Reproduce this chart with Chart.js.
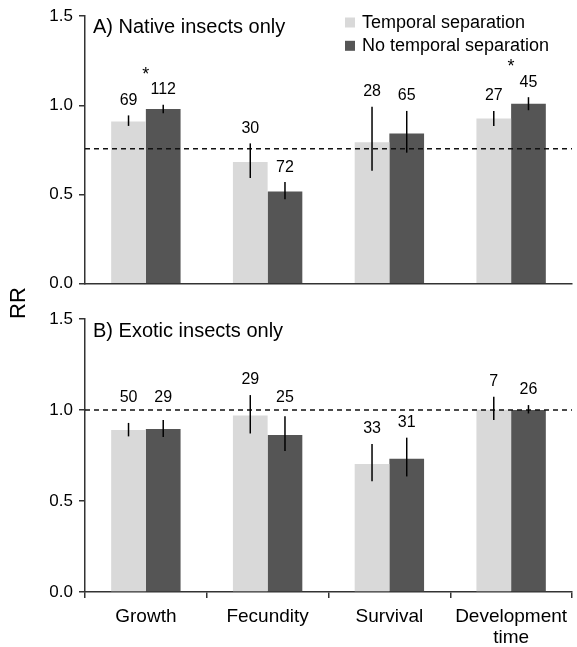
<!DOCTYPE html>
<html><head><meta charset="utf-8">
<script src="https://cdn.jsdelivr.net/npm/chart.js@4.4.1/dist/chart.umd.min.js"></script>
<style>
html,body{margin:0;padding:0;background:#fff;}
#wrap{position:relative;width:577px;height:647px;overflow:hidden;}
canvas{position:absolute;left:0;}
#rr{position:absolute;left:-12px;top:290px;width:60px;height:26px;line-height:26px;text-align:center;
font-family:"Liberation Sans",Arial,sans-serif;font-size:22px;color:#000;transform:rotate(-90deg);transform-origin:50% 50%;}
</style></head><body>
<div id="wrap">
<canvas id="cA" width="577" height="300" style="top:0"></canvas>
<canvas id="cB" width="577" height="347" style="top:300px"></canvas>
<div id="rr">RR</div>
</div>
<script>
// ---- data ----
const categories = ['Growth', 'Fecundity', 'Survival', ['Development', 'time']];
const seriesNames = ['Temporal separation', 'No temporal separation'];
const yTicks = [0, 0.5, 1.0, 1.5];

const nativeTitle = 'A) Native insects only';
const nativeTemporal     = [0.910, 0.683, 0.793, 0.927];
const nativeTemporalLo   = [0.885, 0.593, 0.634, 0.885];
const nativeTemporalHi   = [0.944, 0.787, 0.993, 0.969];
const nativeTemporalN    = [69, 30, 28, 27];
const nativeNoTemporal   = [0.980, 0.518, 0.842, 1.009];
const nativeNoTemporalLo = [0.956, 0.474, 0.735, 0.973];
const nativeNoTemporalHi = [1.004, 0.570, 0.969, 1.046];
const nativeNoTemporalN  = [112, 72, 65, 45];
const nativeSignificant  = [true, false, false, true];
const nativeReference    = 0.757;

const exoticTitle = 'B) Exotic insects only';
const exoticTemporal     = [0.890, 0.970, 0.703, 1.002];
const exoticTemporalLo   = [0.855, 0.871, 0.608, 0.945];
const exoticTemporalHi   = [0.929, 1.082, 0.813, 1.073];
const exoticTemporalN    = [50, 29, 33, 7];
const exoticNoTemporal   = [0.896, 0.862, 0.732, 1.000];
const exoticNoTemporalLo = [0.852, 0.775, 0.635, 0.981];
const exoticNoTemporalHi = [0.945, 0.965, 0.848, 1.027];
const exoticNoTemporalN  = [29, 25, 31, 26];
const exoticSignificant  = [false, false, false, false];
const exoticReference    = 1.0;

// ---- styling ----
const FONT = '"Liberation Sans", Arial, sans-serif';
const LIGHT = '#d9d9d9', DARK = '#555555', AXIS = '#333333';
Chart.defaults.font.family = FONT;
Chart.defaults.color = '#000';

const overlay = {
  id: 'overlay',
  afterDatasetsDraw(chart, args, opts) {
    const ctx = chart.ctx;
    const {left, right} = chart.chartArea;
    const y = chart.scales.y, x = chart.scales.x;
    const refPx = y.getPixelForValue(opts.reference);
    ctx.save();
    // reference line
    ctx.setLineDash([5, 4]);
    ctx.lineWidth = 1.3;
    ctx.strokeStyle = '#111';
    ctx.beginPath(); ctx.moveTo(left, refPx); ctx.lineTo(right, refPx); ctx.stroke();
    ctx.setLineDash([]);
    // error bars + n labels
    const labelY = [];
    opts.errors.forEach((err, di) => {
      const meta = chart.getDatasetMeta(di);
      meta.data.forEach((bar, j) => {
        const hi = y.getPixelForValue(err.hi[j]);
        const lo = y.getPixelForValue(err.lo[j]);
        ctx.strokeStyle = '#000'; ctx.lineWidth = 1.5;
        ctx.beginPath(); ctx.moveTo(bar.x, hi); ctx.lineTo(bar.x, lo); ctx.stroke();
        let ly = hi - 15;
        if (ly > refPx - 12 && ly < refPx + 9) ly = refPx - 12;
        ctx.font = '16px ' + FONT; ctx.fillStyle = '#000';
        ctx.textAlign = 'center'; ctx.textBaseline = 'middle';
        ctx.fillText(String(err.n[j]), bar.x, ly);
        (labelY[j] = labelY[j] || []).push(ly);
      });
    });
    // significance stars
    opts.significant.forEach((s, j) => {
      if (!s) return;
      const cx = x.getPixelForValue(j);
      const top = Math.min(...labelY[j]);
      ctx.font = '18px ' + FONT; ctx.textAlign = 'center'; ctx.textBaseline = 'alphabetic';
      ctx.fillText('*', cx, top - 20 + 10);
    });
    // panel title
    ctx.font = '20px ' + FONT; ctx.textAlign = 'left'; ctx.textBaseline = 'alphabetic';
    ctx.fillText(opts.title, left + 8, opts.titleBaseline);
    // legend
    if (opts.legend) {
      chart.data.datasets.forEach((ds, i) => {
        const by = 28 + i * 23.3;
        ctx.fillStyle = ds.backgroundColor;
        ctx.fillRect(345, by - 10.5, 10, 10);
        ctx.fillStyle = '#000';
        ctx.font = '18px ' + FONT;
        ctx.fillText(ds.label, 362, by);
      });
    }
    ctx.restore();
  }
};

function makePanel(id, vals, opts) {
  return new Chart(document.getElementById(id), {
    type: 'bar',
    data: {
      labels: categories,
      datasets: [
        {label: seriesNames[0], data: vals[0], backgroundColor: LIGHT, borderWidth: 0,
         categoryPercentage: 0.57, barPercentage: 1.0},
        {label: seriesNames[1], data: vals[1], backgroundColor: DARK, borderWidth: 0,
         categoryPercentage: 0.57, barPercentage: 1.0}
      ]
    },
    options: {
      responsive: false,
      animation: false,
      layout: {padding: {top: opts.padTop, right: 5, left: 0, bottom: 0}},
      plugins: {legend: {display: false}, tooltip: {enabled: false}, overlay: opts.overlay},
      scales: {
        x: {
          grid: {display: opts.showX, drawOnChartArea: false, drawTicks: true, tickLength: 6,
                 color: AXIS, lineWidth: 1.5, offset: true},
          border: {display: true, color: AXIS, width: 1.5},
          ticks: {display: opts.showX, padding: 8, color: '#000',
                  font: {size: 19, lineHeight: 1.1}, maxRotation: 0, autoSkip: false},
          afterFit(s) { s.height = opts.xHeight; }
        },
        y: {
          min: 0, max: 1.5,
          afterBuildTicks(s) { s.ticks = yTicks.map(v => ({value: v})); },
          grid: {display: true, drawOnChartArea: false, drawTicks: true, tickLength: 6,
                 color: AXIS, lineWidth: 1.5},
          border: {display: true, color: AXIS, width: 1.5},
          ticks: {padding: 6, color: '#000', font: {size: 17},
                  callback: v => Number(v).toFixed(1)},
          afterFit(s) { s.width = 85; }
        }
      }
    },
    plugins: [overlay]
  });
}

makePanel('cA', [nativeTemporal, nativeNoTemporal], {
  padTop: 16, xHeight: 11, showX: false,
  overlay: {
    reference: nativeReference, significant: nativeSignificant, title: nativeTitle,
    titleBaseline: 33.3, legend: true,
    errors: [
      {lo: nativeTemporalLo, hi: nativeTemporalHi, n: nativeTemporalN},
      {lo: nativeNoTemporalLo, hi: nativeNoTemporalHi, n: nativeNoTemporalN}
    ]
  }
});

makePanel('cB', [exoticTemporal, exoticNoTemporal], {
  padTop: 19, xHeight: 55, showX: true,
  overlay: {
    reference: exoticReference, significant: exoticSignificant, title: exoticTitle,
    titleBaseline: 36.7, legend: false,
    errors: [
      {lo: exoticTemporalLo, hi: exoticTemporalHi, n: exoticTemporalN},
      {lo: exoticNoTemporalLo, hi: exoticNoTemporalHi, n: exoticNoTemporalN}
    ]
  }
});
</script>
</body></html>
